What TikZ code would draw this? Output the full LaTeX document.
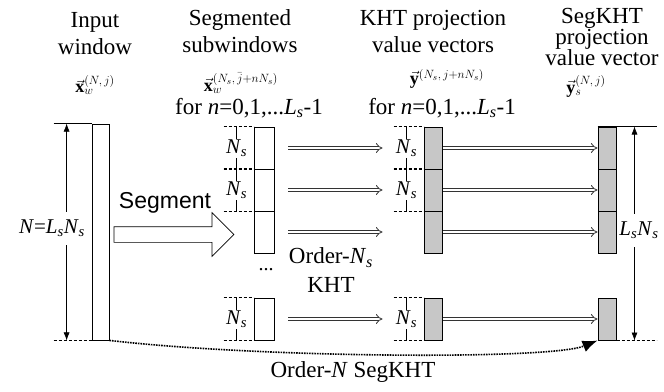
\documentclass[tikz,border=0pt]{standalone}
\usepackage{fontspec}
\setmainfont{Liberation Serif}
\newfontfamily\arialfont{Liberation Sans}
\usepackage{amsmath}
\usetikzlibrary{positioning,arrows.meta,shapes.arrows,calc}
\newcommand{\segN}{\textit{N}\textsubscript{\textit{s}}}
\newcommand{\segL}{\textit{L}\textsubscript{\textit{s}}}
\tikzset{
  head/.style={align=center,inner sep=0pt,font=\fontsize{23}{27}\selectfont},
  vecl/.style={inner sep=0pt,font=\fontsize{18}{20}\selectfont},
  win/.style={draw,minimum width=20pt,minimum height=42pt,inner sep=0pt,line width=0.8pt},
  kht/.style={win,minimum width=18pt,fill=black!22,line width=1pt},
  dimlbl/.style={fill=white,inner sep=1pt,font=\fontsize{21}{24}\selectfont},
  ext/.style={densely dashed,line width=0.5pt},
  xfer/.style={draw=black!80,line width=0.8pt,double,double distance=2.6pt,arrows={-Implies}},
  dim/.style={line width=0.6pt,arrows={Latex[length=8pt,width=6pt]-Latex[length=8pt,width=6pt]}},
}
\begin{document}
\begin{tikzpicture}[x=1pt,y=-1pt]
  \useasboundingbox (0,0) rectangle (664,391);
  % column headings
  \node[head] (hin) at (95,34) {Input\\window};
  \node[head] (hsub) at (240,31) {Segmented\\subwindows};
  \node[head] (hkht) at (433,31) {KHT projection\\value vectors};
  \node[head,font=\fontsize{23}{21}\selectfont] (hseg) at (602,37) {SegKHT\\projection\\value vector};
  \node[vecl] (vin) at (95,85) {$\vec{\mathbf{x}}_w^{(N,\,j)}$};
  \node[vecl] (vsub) at (241,83) {$\vec{\mathbf{x}}_w^{(N_s,\,\bar{j}+nN_s)}$};
  \node[vecl] (vkht) at (447,79) {$\vec{\mathbf{y}}^{(N_s,\,j+nN_s)}$};
  \node[vecl] (vseg) at (586,86) {$\vec{\mathbf{y}}_s^{(N,\,j)}$};
  \node[head] (fsub) at (249,108) {for \textit{n}=0,1,...\segL-1};
  \node[head] (fkht) at (442,108) {for \textit{n}=0,1,...\segL-1};

  % vectors
  \node[win,minimum width=17pt,minimum height=216pt] (inbar) at (100.5,232) {};
  \node[win] (s1) at (264,148) {};
  \node[win] (s2) at (264,190) {};
  \node[win] (s3) at (264,232) {};
  \node[win] (s4) at (264,319) {};
  \node[kht] (k1) at (433,148) {};
  \node[kht] (k2) at (433,190) {};
  \node[kht] (k3) at (433,232) {};
  \node[kht] (k4) at (433,319) {};
  \node[kht] (g1) at (607,148) {};
  \node[kht] (g2) at (607,190) {};
  \node[kht] (g3) at (607,232) {};
  \node[kht] (g4) at (607,319) {};
  \node[font=\fontsize{20}{22}\selectfont] (dots) at (266,270) {...};

  % segment sizes
  \foreach \b in {s1,s2,s4,k1,k2,k4} {
    \draw[ext] ($(\b.north west)+(-30,0)$) -- (\b.north west);
    \draw[ext] ($(\b.south west)+(-30,0)$) -- (\b.south west);
    \draw[line width=0.5pt] ($(\b.north west)+(-17,0)$) -- ($(\b.south west)+(-17,0)$)
      node[midway,dimlbl] {\segN};
  }

  % whole window sizes
  \draw[line width=0.6pt] ($(inbar.north west)+(-38,0)$) -- (inbar.north west);
  \draw[ext] ($(inbar.south west)+(-38,0)$) -- (inbar.south west);
  \draw[dim] ($(inbar.north west)+(-25,0)$) -- ($(inbar.south west)+(-25,0)$);
  \node[dimlbl,inner ysep=8pt] (nlab) at (52,228) {\textit{N}=\segL\segN};
  \draw[line width=0.6pt] (g1.north west) -- ($(g1.north east)+(40,0)$);
  \draw[ext] (g4.south east) -- ($(g4.south east)+(40,0)$);
  \draw[dim] ($(g1.north east)+(18,0)$) -- ($(g4.south east)+(18,0)$);
  \node[dimlbl,inner xsep=0pt,inner ysep=8pt] (rlab) at (639,230) {\segL\segN};

  % segmenting
  \node[single arrow,draw,line width=0.7pt,inner xsep=0pt,inner ysep=7.5pt,minimum height=120pt,
        single arrow head extend=14pt] (segarr) at (170,234.5) {};
  \node[font=\arialfont\fontsize{23}{26}\selectfont,inner sep=0pt] (seglbl) at (165,203) {Segment};

  % transforms
  \foreach \i in {1,2,3,4} {
    \draw[xfer] ($(s\i.east)+(14,0)$) -- ($(k\i.west)+(-41,0)$);
    \draw[xfer] (k\i.east) -- (g\i.west);
  }
  \node[head,font=\fontsize{23}{29}\selectfont] (okht) at (331,270) {Order-\segN\\KHT};

  \draw[densely dotted,line width=1.6pt,arrows={-Latex[length=15pt,width=12pt]}]
    (inbar.south east) .. controls (260,358) and (550,360) .. (g4.south west);
  \node[head] (oseg) at (353,372) {Order-\textit{N} SegKHT};
\end{tikzpicture}
\end{document}
